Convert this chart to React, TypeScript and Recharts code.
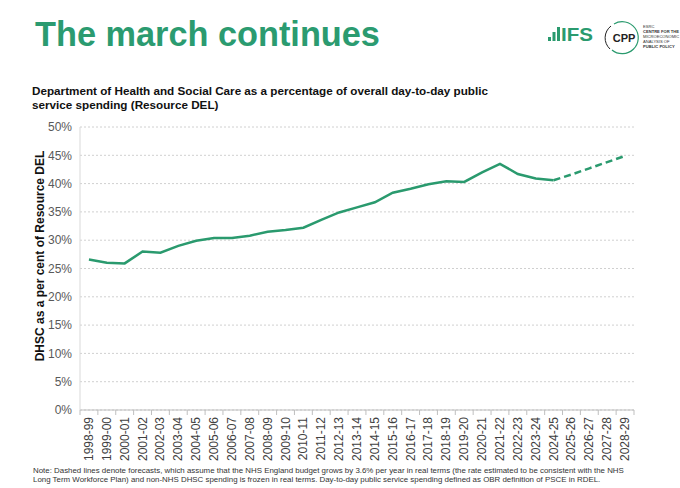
import React from 'react';
import { LineChart, Line, XAxis, YAxis, CartesianGrid } from 'recharts';

const years = [
  '1998-99', '1999-00', '2000-01', '2001-02', '2002-03', '2003-04', '2004-05', '2005-06',
  '2006-07', '2007-08', '2008-09', '2009-10', '2010-11', '2011-12', '2012-13', '2013-14',
  '2014-15', '2015-16', '2016-17', '2017-18', '2018-19', '2019-20', '2020-21', '2021-22',
  '2022-23', '2023-24', '2024-25', '2025-26', '2026-27', '2027-28', '2028-29',
];

const outturn = [
  26.6, 26.0, 25.9, 28.0, 27.8, 29.0, 29.9, 30.4, 30.4, 30.8, 31.5, 31.8, 32.2, 33.6,
  34.9, 35.8, 36.7, 38.4, 39.1, 39.9, 40.4, 40.3, 42.0, 43.5, 41.7, 40.9, 40.6,
];

const forecastYears = ['2024-25', '2025-26', '2026-27', '2027-28', '2028-29'];
const forecast = [40.6, 41.6, 42.7, 43.8, 44.9];

const yTicks = [0, 5, 10, 15, 20, 25, 30, 35, 40, 45, 50];

const data = years.map((year, i) => {
  const fi = forecastYears.indexOf(year);
  return {
    year,
    outturn: i < outturn.length ? outturn[i] : null,
    forecast: fi >= 0 ? forecast[fi] : null,
  };
});

const W = 680;
const H = 488;
const PLOT_LEFT = 80;
const PLOT_RIGHT = 634;
const HALF_BAND = (PLOT_RIGHT - PLOT_LEFT) / years.length / 2;
const GREEN = '#2a9a6e';
const FONT = '"Liberation Sans", Arial, sans-serif';

const XTick = (props: any) => {
  const { x, y, payload, index } = props;
  const last = index === years.length - 1;
  return (
    <g>
      <line x1={x - HALF_BAND} x2={x - HALF_BAND} y1={y} y2={y + 5} stroke="#bfbfbf" />
      {last && <line x1={x + HALF_BAND} x2={x + HALF_BAND} y1={y} y2={y + 5} stroke="#bfbfbf" />}
      <text
        x={0}
        y={0}
        transform={`translate(${x + 4},${y + 7}) rotate(-90)`}
        textAnchor="end"
        fontSize={12}
        fill="#404040"
        fontFamily={FONT}
      >
        {payload.value}
      </text>
    </g>
  );
};

export default function App() {
  return (
    <div style={{ position: 'absolute', left: 0, top: 0, width: W, height: H, background: '#fff', fontFamily: FONT }}>
      <LineChart
        width={W}
        height={H}
        data={data}
        margin={{ top: 127, right: W - PLOT_RIGHT, bottom: 28, left: 0 }}
      >
        <CartesianGrid vertical={false} stroke="#d0d0d0" strokeDasharray="2 2" />
        <XAxis
          dataKey="year"
          interval={0}
          height={50}
          padding={{ left: HALF_BAND, right: HALF_BAND }}
          tickLine={false}
          tickSize={0}
          tickMargin={0}
          axisLine={{ stroke: '#bfbfbf' }}
          tick={<XTick />}
        />
        <YAxis
          width={PLOT_LEFT}
          domain={[0, 50]}
          ticks={yTicks}
          interval={0}
          tickFormatter={(v: number) => `${v}%`}
          tickLine={false}
          axisLine={{ stroke: '#d9d9d9' }}
          tick={{ fontSize: 12, fill: '#595959', fontFamily: FONT }}
        />
        <Line
          dataKey="outturn"
          stroke={GREEN}
          strokeWidth={2.5}
          dot={false}
          isAnimationActive={false}
          connectNulls={false}
        />
        <Line
          dataKey="forecast"
          stroke={GREEN}
          strokeWidth={2.5}
          strokeDasharray="7 4"
          dot={false}
          isAnimationActive={false}
          connectNulls={false}
        />
      </LineChart>
      <svg
        width={W}
        height={H}
        style={{ position: 'absolute', left: 0, top: 0, pointerEvents: 'none' }}
      >
        <text x={35} y={46} fontSize={34.3} fontWeight="bold" fill="#2b9b70" fontFamily={FONT}>
          The march continues
        </text>
        <text x={32} y={95} fontSize={11.7} fontWeight="bold" fill="#111" fontFamily={FONT}>
          Department of Health and Social Care as a percentage of overall day-to-day public
        </text>
        <text x={32} y={108.5} fontSize={11.7} fontWeight="bold" fill="#111" fontFamily={FONT}>
          service spending (Resource DEL)
        </text>
        <text
          x={0}
          y={0}
          transform="translate(40,256) rotate(-90)"
          textAnchor="middle"
          dominantBaseline="central"
          fontSize={12}
          fontWeight="bold"
          fill="#111"
          fontFamily={FONT}
        >
          DHSC as a per cent of Resource DEL
        </text>
        <text x={33} y={472.5} fontSize={7.9} fill="#333" fontFamily={FONT}>
          Note: Dashed lines denote forecasts, which assume that the NHS England budget grows by 3.6% per year in real terms (the rate estimated to be consistent with the NHS
        </text>
        <text x={33} y={482} fontSize={7.9} fill="#333" fontFamily={FONT}>
          Long Term Workforce Plan) and non-NHS DHSC spending is frozen in real terms. Day-to-day public service spending defined as OBR definition of PSCE in RDEL.
        </text>
        {/* IFS logo */}
        <g fill="#2a9a6e">
          <rect x={548} y={37} width={3} height={4} />
          <rect x={552.5} y={32} width={3} height={9} />
          <rect x={557} y={27} width={3} height={14} />
          <text x={561} y={41} fontSize={18} fontWeight="bold" fontFamily={FONT} textLength={32} lengthAdjust="spacingAndGlyphs">
            IFS
          </text>
        </g>
        {/* CPP logo */}
        <path d="M 614 24 A 16 16 0 1 1 612 50" fill="none" stroke="#2a9a6e" strokeWidth={1.2} />
        <path d="M 611 26 A 15 15 0 0 0 610 49" fill="none" stroke="#222" strokeWidth={1} />
        <text x={624} y={42} fontSize={11} fontWeight="bold" fill="#222" textAnchor="middle" fontFamily={FONT}>
          CPP
        </text>
        <g fontSize={4.1} fill="#333" fontFamily={FONT}>
          <text x={643} y={28}>ESRC</text>
          <text x={643} y={33} fontWeight="bold">CENTRE FOR THE</text>
          <text x={643} y={38}>MICROECONOMIC</text>
          <text x={643} y={43}>ANALYSIS OF</text>
          <text x={643} y={48} fontWeight="bold">PUBLIC POLICY</text>
        </g>
      </svg>
    </div>
  );
}
